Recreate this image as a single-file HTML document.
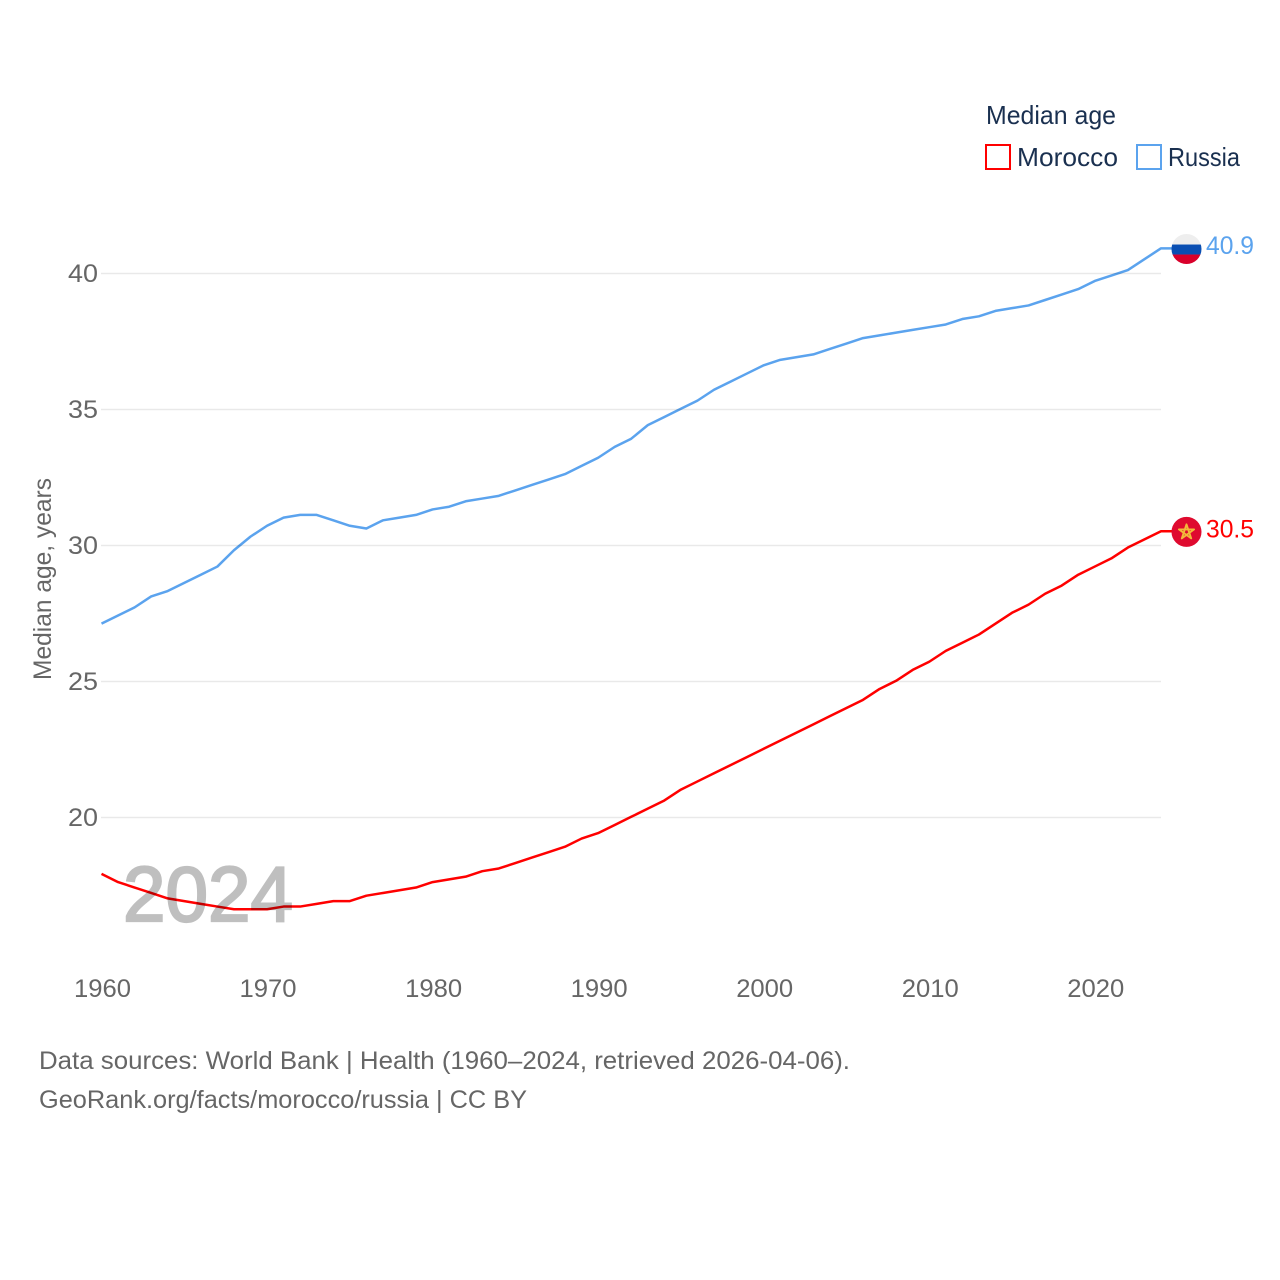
<!DOCTYPE html>
<html lang="en">
<head>
<meta charset="utf-8">
<title>Median age: Morocco and Russia</title>
<style>
html,body{margin:0;padding:0;background:#fff;width:1280px;height:1280px;overflow:hidden}
svg{display:block}
text{font-family:"Liberation Sans",sans-serif}
.tick{font-size:25px;fill:#666}
.foot{font-size:25px;fill:#666}
.leg{font-size:26px;fill:#1a3050}
</style>
</head>
<body>
<svg id="chart" xmlns="http://www.w3.org/2000/svg" width="1280" height="1280" viewBox="0 0 1280 1280">
  <defs>
    <clipPath id="flag-clip"><circle cx="0" cy="0" r="15"/></clipPath>
  </defs>
  <rect width="1280" height="1280" fill="#fff"/>
  <g id="grid"></g>
  <text x="123" y="921" font-size="78" font-weight="400" fill="#bfbfbf" stroke="#bfbfbf" stroke-width="2.2" textLength="170" lengthAdjust="spacingAndGlyphs">2024</text>
  <g id="series" transform="translate(0,-0.7)" style="mix-blend-mode:multiply"></g>
  <g id="yticks"></g>
  <g id="xticks"></g>
  <text transform="translate(51,579) rotate(-90)" text-anchor="middle" font-size="25" fill="#666" textLength="202" lengthAdjust="spacingAndGlyphs">Median age, years</text>

  <text class="leg" x="986" y="124" textLength="130" lengthAdjust="spacingAndGlyphs">Median age</text>
  <g>
    <rect x="986" y="145" width="24" height="24" fill="#fff" stroke="#ff0000" stroke-width="2"/>
    <text class="leg" x="1017" y="166" textLength="101" lengthAdjust="spacingAndGlyphs">Morocco</text>
  </g>
  <g>
    <rect x="1137" y="145" width="24" height="24" fill="#fff" stroke="#5ba3ee" stroke-width="2"/>
    <text class="leg" x="1168" y="166" textLength="72" lengthAdjust="spacingAndGlyphs">Russia</text>
  </g>

  <g id="flags"></g>

  <text class="foot" x="39" y="1069" textLength="811" lengthAdjust="spacingAndGlyphs">Data sources: World Bank | Health (1960–2024, retrieved 2026-04-06).</text>
  <text class="foot" x="39" y="1108" textLength="488" lengthAdjust="spacingAndGlyphs">GeoRank.org/facts/morocco/russia | CC BY</text>
</svg>
<script>
const years = [1960,1961,1962,1963,1964,1965,1966,1967,1968,1969,1970,1971,1972,1973,1974,1975,1976,1977,1978,1979,1980,1981,1982,1983,1984,1985,1986,1987,1988,1989,1990,1991,1992,1993,1994,1995,1996,1997,1998,1999,2000,2001,2002,2003,2004,2005,2006,2007,2008,2009,2010,2011,2012,2013,2014,2015,2016,2017,2018,2019,2020,2021,2022,2023,2024];
const russia = [27.1,27.4,27.7,28.1,28.3,28.6,28.9,29.2,29.8,30.3,30.7,31.0,31.1,31.1,30.9,30.7,30.6,30.9,31.0,31.1,31.3,31.4,31.6,31.7,31.8,32.0,32.2,32.4,32.6,32.9,33.2,33.6,33.9,34.4,34.7,35.0,35.3,35.7,36.0,36.3,36.6,36.8,36.9,37.0,37.2,37.4,37.6,37.7,37.8,37.9,38.0,38.1,38.3,38.4,38.6,38.7,38.8,39.0,39.2,39.4,39.7,39.9,40.1,40.5,40.9];
const morocco = [17.9,17.6,17.4,17.2,17.0,16.9,16.8,16.7,16.6,16.6,16.6,16.7,16.7,16.8,16.9,16.9,17.1,17.2,17.3,17.4,17.6,17.7,17.8,18.0,18.1,18.3,18.5,18.7,18.9,19.2,19.4,19.7,20.0,20.3,20.6,21.0,21.3,21.6,21.9,22.2,22.5,22.8,23.1,23.4,23.7,24.0,24.3,24.7,25.0,25.4,25.7,26.1,26.4,26.7,27.1,27.5,27.8,28.2,28.5,28.9,29.2,29.5,29.9,30.2,30.5];
const yTickValues = [20,25,30,35,40];
const xTickValues = [1960,1970,1980,1990,2000,2010,2020];

const NS = 'http://www.w3.org/2000/svg';
const xScale = function (year) { return 101.5 + (year - 1960) * (1161 - 101.5) / 64; };
const yScale = function (value) { return 817.5 - (value - 20) * 27.2; };
function make(tag, parent, attrs) {
  const el = document.createElementNS(NS, tag);
  for (const key in attrs) { el.setAttribute(key, attrs[key]); }
  parent.appendChild(el);
  return el;
}

const gridGroup = document.getElementById('grid');
const yTickGroup = document.getElementById('yticks');
yTickValues.forEach(function (v) {
  const line = make('line', gridGroup, { x1: 101, x2: 1161, y1: yScale(v), y2: yScale(v), stroke: '#e9e9e9', 'stroke-width': 1.5 });
  
  
  const label = make('text', yTickGroup, { x: 98, y: yScale(v) + 8.5, 'text-anchor': 'end', class: 'tick', textLength: 30, lengthAdjust: 'spacingAndGlyphs' });
  label.textContent = String(v);
  
  
});

const xTickGroup = document.getElementById('xticks');
xTickValues.forEach(function (v) {
  const label = make('text', xTickGroup, { x: xScale(v) + 1, y: 997, 'text-anchor': 'middle', class: 'tick', textLength: 57, lengthAdjust: 'spacingAndGlyphs' });
  label.textContent = String(v);
  
  
});

const seriesGroup = document.getElementById('series');
function drawLine(values, color, name) {
  let d = '';
  values.forEach(function (v, i) {
    d += (i ? 'L' : 'M') + xScale(years[i]).toFixed(2) + ' ' + yScale(v).toFixed(2);
  });
  d += 'L1172 ' + yScale(values[values.length - 1]).toFixed(2);
  const path = make('path', seriesGroup, { d: d, fill: 'none', stroke: color, 'stroke-width': 2.5, 'stroke-linejoin': 'round' });
  
  
}
drawLine(morocco, '#ff0000', 'line-morocco');
drawLine(russia, '#5ba3ee', 'line-russia');

const flagGroup = document.getElementById('flags');
const flagX = 1186.5;

const russiaEnd = yScale(russia[russia.length - 1]);
const ruFlag = make('g', flagGroup, { transform: 'translate(' + flagX + ',' + russiaEnd + ')' });


const ruClip = make('g', ruFlag, { 'clip-path': 'url(#flag-clip)' });
make('rect', ruClip, { x: -15, y: -15, width: 30, height: 11, fill: '#eeeeee' });
make('rect', ruClip, { x: -15, y: -4.5, width: 30, height: 10, fill: '#0a4fb3' });
make('rect', ruClip, { x: -15, y: 5.5, width: 30, height: 10, fill: '#d9002b' });

const moroccoEnd = yScale(morocco[morocco.length - 1]);
const maFlag = make('g', flagGroup, { transform: 'translate(' + flagX + ',' + moroccoEnd + ')' });


make('circle', maFlag, { cx: 0, cy: 0, r: 15, fill: '#df0a2f' });
make('path', maFlag, { d: 'M0 -7.5L4.7 6.5L-7.6 -2.5H7.6L-4.7 6.5Z', fill: 'none', stroke: '#f2b93a', 'stroke-width': 1.9, 'stroke-linejoin': 'round' });

const ruValue = make('text', flagGroup, { x: 1206, y: russiaEnd + 5, 'font-size': 25, fill: '#5ba3ee', textLength: 48, lengthAdjust: 'spacingAndGlyphs' });
ruValue.textContent = russia[russia.length - 1].toFixed(1);



const maValue = make('text', flagGroup, { x: 1206, y: moroccoEnd + 5.5, 'font-size': 25, fill: '#ff0000', textLength: 48, lengthAdjust: 'spacingAndGlyphs' });
maValue.textContent = morocco[morocco.length - 1].toFixed(1);


</script>
</body>
</html>
